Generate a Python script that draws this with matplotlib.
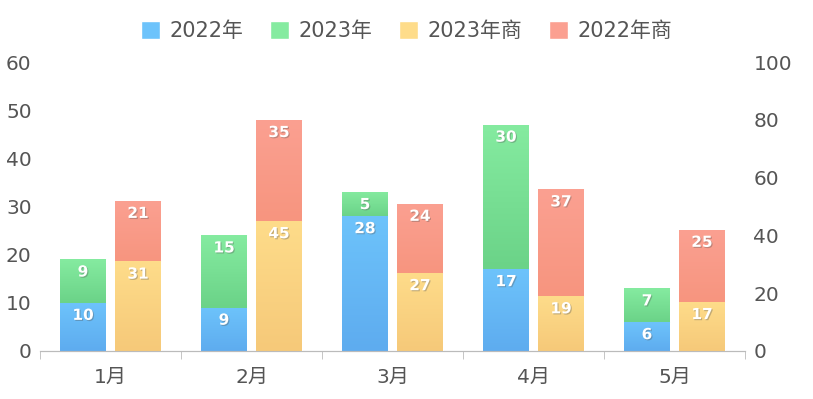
import numpy as np
import matplotlib
matplotlib.use("Agg")
import matplotlib.pyplot as plt
import matplotlib.patheffects as pe
from matplotlib.colors import LinearSegmentedColormap
from matplotlib.patches import Patch

plt.rcParams['font.family'] = ['DejaVu Sans', 'Noto Sans CJK SC']

# ---------------------------------------------------------
# Data
# ---------------------------------------------------------
months = ['1月', '2月', '3月', '4月', '5月']
y2022 = [10, 9, 28, 17, 6]
y2023 = [9, 15, 5, 30, 7]
shang2023 = [31, 45, 27, 19, 17]
shang2022 = [21, 35, 24, 37, 25]

# (top colour, bottom colour) for gradient fills
colors = {
    '2022年': ('#6dc3fb', '#5eacef'),
    '2023年': ('#85eba0', '#6bd388'),
    '2023年商': ('#fedc8a', '#f6c979'),
    '2022年商': ('#fba091', '#f7957f'),
}

fig = plt.figure(figsize=(8.13, 3.99), dpi=100)
ax = fig.add_axes([40 / 813, 48 / 399, 705 / 813, 289 / 399])
ax2 = ax.twinx()

x = np.arange(len(months))
width = 0.32
off = 0.195


def grad_bar(axis, xc, bottom, height, key):
    top_c, bot_c = colors[key]
    cmap = LinearSegmentedColormap.from_list(key, [bot_c, top_c])
    bar = axis.bar(xc, height, width, bottom=bottom, color=top_c,
                   edgecolor='white', linewidth=0.8, zorder=2)[0]
    img = axis.imshow(np.linspace(0, 1, 64).reshape(-1, 1), cmap=cmap,
                      origin='lower', aspect='auto', zorder=2.1,
                      extent=[xc - width / 2, xc + width / 2, bottom, bottom + height])
    img.set_clip_path(bar)
    return bar


def label(axis, xc, ypos, val):
    axis.text(xc, ypos, str(val), ha='center', va='center', color='white',
              fontsize=11, fontweight='bold', zorder=4,
              path_effects=[pe.withSimplePatchShadow(offset=(0.8, -0.8),
                                                      shadow_rgbFace='#555555',
                                                      alpha=0.35)])


ax.set_ylim(0, 60)
ax2.set_ylim(0, 100)

for i in range(len(months)):
    xl = x[i] - off
    xr = x[i] + off
    grad_bar(ax, xl, 0, y2022[i], '2022年')
    grad_bar(ax, xl, y2022[i], y2023[i], '2023年')
    grad_bar(ax2, xr, 0, shang2023[i], '2023年商')
    grad_bar(ax2, xr, shang2023[i], shang2022[i], '2022年商')
    label(ax, xl, y2022[i] - 2.6, y2022[i])
    label(ax, xl, y2022[i] + y2023[i] - 2.6, y2023[i])
    label(ax2, xr, shang2023[i] - 4.4, shang2023[i])
    label(ax2, xr, shang2023[i] + shang2022[i] - 4.4, shang2022[i])

ax.set_xlim(-0.5, len(months) - 0.5)
ax2.set_xlim(-0.5, len(months) - 0.5)

# ---------------------------------------------------------
# Axes styling
# ---------------------------------------------------------
for a in (ax, ax2):
    for s in ('top', 'left', 'right'):
        a.spines[s].set_visible(False)
    a.spines['bottom'].set_color('#bbbbbb')

ax.set_xticks(x)
ax.set_xticklabels(months)
ax.set_xticks(np.arange(-0.5, len(months)), minor=True)
ax.tick_params(axis='x', which='major', length=0, pad=12, labelsize=14.5,
               labelcolor='#555555')
ax.tick_params(axis='x', which='minor', length=6, color='#bbbbbb')
ax.set_yticks(np.arange(0, 61, 10))
ax.tick_params(axis='y', length=0, pad=6, labelsize=14.5, labelcolor='#555555')
ax2.set_yticks(np.arange(0, 101, 20))
ax2.tick_params(axis='y', length=0, pad=6, labelsize=14.5, labelcolor='#555555')

handles = [Patch(facecolor=colors[k][0], edgecolor='white', label=k)
           for k in ['2022年', '2023年', '2023年商', '2022年商']]
fig.legend(handles=handles, loc='center', bbox_to_anchor=(0.5, 0.922), ncol=4,
           frameon=False, fontsize=15, handlelength=0.9, handleheight=0.9,
           handletextpad=0.45, columnspacing=1.3, labelcolor='#555555')

fig.savefig('out.png', dpi=100)
